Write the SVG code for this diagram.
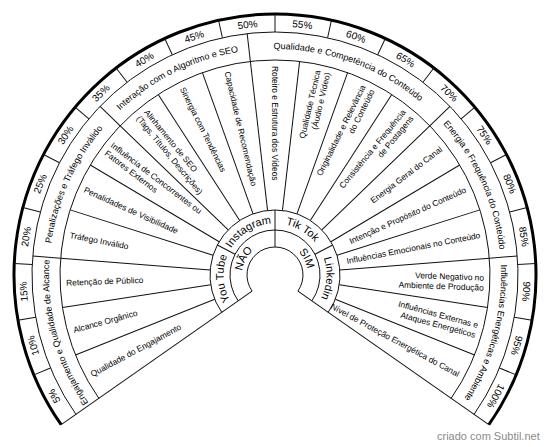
<svg xmlns="http://www.w3.org/2000/svg" xmlns:xlink="http://www.w3.org/1999/xlink" width="550" height="447" viewBox="0 0 550 447">
<style>
.ln{stroke:#111;stroke-width:1;fill:none}
.rim{stroke:#000;stroke-width:3;fill:none}
.pct{font-family:"Liberation Sans",Arial,sans-serif;font-size:10px;fill:#000;text-anchor:middle}
.cat{font-family:"Liberation Sans",Arial,sans-serif;font-size:9px;fill:#000;text-anchor:middle}
.plat{font-family:"Liberation Sans",Arial,sans-serif;font-size:11px;fill:#000;text-anchor:middle}
.it{font-family:"Liberation Sans",Arial,sans-serif;font-size:8.4px;fill:#000}
.l{text-anchor:start}
.r{text-anchor:end}
.credit{font-family:"Liberation Sans",Arial,sans-serif;font-size:11px;fill:#8a8a8a}
</style>
<defs>
<path id="arcCat" d="M145.372,89.872 A226,226 0 0 1 404.628,89.872"/>
<path id="arcPlat" d="M241.896,235.549 A51.5,51.5 0 0 1 308.104,235.549"/>
<path id="arcYN" d="M249.721,253.788 A33,33 0 0 1 300.279,253.788"/>
</defs>
<rect width="550" height="447" fill="#fff"/>

<g id="rings">
<path class="ln" d="M252.064,291.060 A28,28 0 1 1 297.936,291.060"/>
<path class="ln" d="M238.138,300.811 A45,45 0 1 1 311.862,300.811"/>
<path class="ln" d="M221.755,312.283 A65,65 0 1 1 328.245,312.283"/>
<path class="ln" d="M98.883,398.320 A215,215 0 1 1 451.117,398.320"/>
<path class="ln" d="M75.947,414.380 A243,243 0 1 1 474.053,414.380"/>
<path class="rim" d="M61.202,424.704 A261,261 0 1 1 488.798,424.704"/>
</g>

<g id="connectors" class="ln">
<!-- ends -->
<line x1="275" y1="247" x2="275" y2="14" transform="rotate(-125 275 275)"/>
<line x1="275" y1="247" x2="275" y2="14" transform="rotate(125 275 275)"/>
<!-- yes/no + platform -->
<line x1="275" y1="247" x2="275" y2="210"/>
<line x1="275" y1="230" x2="275" y2="210" transform="rotate(-62.5 275 275)"/>
<line x1="275" y1="230" x2="275" y2="210" transform="rotate(62.5 275 275)"/>
<!-- items -->
<line x1="275" y1="210" x2="275" y2="60" transform="rotate(-111.842 275 275)"/>
<line x1="275" y1="210" x2="275" y2="60" transform="rotate(-98.684 275 275)"/>
<line x1="275" y1="210" x2="275" y2="60" transform="rotate(-85.526 275 275)"/>
<line x1="275" y1="210" x2="275" y2="60" transform="rotate(-72.368 275 275)"/>
<line x1="275" y1="210" x2="275" y2="60" transform="rotate(-59.211 275 275)"/>
<line x1="275" y1="210" x2="275" y2="60" transform="rotate(-46.053 275 275)"/>
<line x1="275" y1="210" x2="275" y2="60" transform="rotate(-32.895 275 275)"/>
<line x1="275" y1="210" x2="275" y2="60" transform="rotate(-19.737 275 275)"/>
<line x1="275" y1="210" x2="275" y2="60" transform="rotate(-6.579 275 275)"/>
<line x1="275" y1="210" x2="275" y2="60" transform="rotate(6.579 275 275)"/>
<line x1="275" y1="210" x2="275" y2="60" transform="rotate(19.737 275 275)"/>
<line x1="275" y1="210" x2="275" y2="60" transform="rotate(32.895 275 275)"/>
<line x1="275" y1="210" x2="275" y2="60" transform="rotate(46.053 275 275)"/>
<line x1="275" y1="210" x2="275" y2="60" transform="rotate(59.211 275 275)"/>
<line x1="275" y1="210" x2="275" y2="60" transform="rotate(72.368 275 275)"/>
<line x1="275" y1="210" x2="275" y2="60" transform="rotate(85.526 275 275)"/>
<line x1="275" y1="210" x2="275" y2="60" transform="rotate(98.684 275 275)"/>
<line x1="275" y1="210" x2="275" y2="60" transform="rotate(111.842 275 275)"/>
<!-- categories -->
<line x1="275" y1="60" x2="275" y2="32" transform="rotate(-85.526 275 275)"/>
<line x1="275" y1="60" x2="275" y2="32" transform="rotate(-46.053 275 275)"/>
<line x1="275" y1="60" x2="275" y2="32" transform="rotate(-6.579 275 275)"/>
<line x1="275" y1="60" x2="275" y2="32" transform="rotate(46.053 275 275)"/>
<line x1="275" y1="60" x2="275" y2="32" transform="rotate(85.526 275 275)"/>
<!-- percent -->
<line x1="275" y1="32" x2="275" y2="14" transform="rotate(-112.5 275 275)"/>
<line x1="275" y1="32" x2="275" y2="14" transform="rotate(-100 275 275)"/>
<line x1="275" y1="32" x2="275" y2="14" transform="rotate(-87.5 275 275)"/>
<line x1="275" y1="32" x2="275" y2="14" transform="rotate(-75 275 275)"/>
<line x1="275" y1="32" x2="275" y2="14" transform="rotate(-62.5 275 275)"/>
<line x1="275" y1="32" x2="275" y2="14" transform="rotate(-50 275 275)"/>
<line x1="275" y1="32" x2="275" y2="14" transform="rotate(-37.5 275 275)"/>
<line x1="275" y1="32" x2="275" y2="14" transform="rotate(-25 275 275)"/>
<line x1="275" y1="32" x2="275" y2="14" transform="rotate(-12.5 275 275)"/>
<line x1="275" y1="32" x2="275" y2="14"/>
<line x1="275" y1="32" x2="275" y2="14" transform="rotate(12.5 275 275)"/>
<line x1="275" y1="32" x2="275" y2="14" transform="rotate(25 275 275)"/>
<line x1="275" y1="32" x2="275" y2="14" transform="rotate(37.5 275 275)"/>
<line x1="275" y1="32" x2="275" y2="14" transform="rotate(50 275 275)"/>
<line x1="275" y1="32" x2="275" y2="14" transform="rotate(62.5 275 275)"/>
<line x1="275" y1="32" x2="275" y2="14" transform="rotate(75 275 275)"/>
<line x1="275" y1="32" x2="275" y2="14" transform="rotate(87.5 275 275)"/>
<line x1="275" y1="32" x2="275" y2="14" transform="rotate(100 275 275)"/>
<line x1="275" y1="32" x2="275" y2="14" transform="rotate(112.5 275 275)"/>
</g>

<g id="percent" class="pct">
<text x="275" y="26.6" transform="rotate(-118.75 275 275)">5%</text>
<text x="275" y="26.6" transform="rotate(-106.25 275 275)">10%</text>
<text x="275" y="26.6" transform="rotate(-93.75 275 275)">15%</text>
<text x="275" y="26.6" transform="rotate(-81.25 275 275)">20%</text>
<text x="275" y="26.6" transform="rotate(-68.75 275 275)">25%</text>
<text x="275" y="26.6" transform="rotate(-56.25 275 275)">30%</text>
<text x="275" y="26.6" transform="rotate(-43.75 275 275)">35%</text>
<text x="275" y="26.6" transform="rotate(-31.25 275 275)">40%</text>
<text x="275" y="26.6" transform="rotate(-18.75 275 275)">45%</text>
<text x="275" y="26.6" transform="rotate(-6.25 275 275)">50%</text>
<text x="275" y="26.6" transform="rotate(6.25 275 275)">55%</text>
<text x="275" y="26.6" transform="rotate(18.75 275 275)">60%</text>
<text x="275" y="26.6" transform="rotate(31.25 275 275)">65%</text>
<text x="275" y="26.6" transform="rotate(43.75 275 275)">70%</text>
<text x="275" y="26.6" transform="rotate(56.25 275 275)">75%</text>
<text x="275" y="26.6" transform="rotate(68.75 275 275)">80%</text>
<text x="275" y="26.6" transform="rotate(81.25 275 275)">85%</text>
<text x="275" y="26.6" transform="rotate(93.75 275 275)">90%</text>
<text x="275" y="26.6" transform="rotate(106.25 275 275)">95%</text>
<text x="275" y="26.6" transform="rotate(118.75 275 275)">100%</text>
</g>

<g id="categories" class="cat">
<g id="cat-engajamento" transform="rotate(-105.263 275 275)"><text><textPath xlink:href="#arcCat" href="#arcCat" startOffset="50%">Engajamento e Qualidade de Alcance</textPath></text></g>
<g id="cat-penalizacoes" transform="rotate(-65.789 275 275)"><text><textPath xlink:href="#arcCat" href="#arcCat" startOffset="50%">Penalizações e Tráfego Inválido</textPath></text></g>
<g id="cat-interacao" transform="rotate(-26.316 275 275)"><text><textPath xlink:href="#arcCat" href="#arcCat" startOffset="50%">Interação com o Algoritmo e SEO</textPath></text></g>
<g id="cat-qualidade" transform="rotate(19.737 275 275)"><text><textPath xlink:href="#arcCat" href="#arcCat" startOffset="50%">Qualidade e Competência do Conteúdo</textPath></text></g>
<g id="cat-energia" transform="rotate(65.789 275 275)"><text><textPath xlink:href="#arcCat" href="#arcCat" startOffset="50%">Energia e Frequência do Conteúdo</textPath></text></g>
<g id="cat-influencias" transform="rotate(105.263 275 275)"><text><textPath xlink:href="#arcCat" href="#arcCat" startOffset="50%">Influências Energéticas e Ambiente</textPath></text></g>
</g>

<g id="platforms" class="plat">
<g id="p-youtube" transform="rotate(-93.75 275 275)"><text><textPath xlink:href="#arcPlat" href="#arcPlat" startOffset="50%">You Tube</textPath></text></g>
<g id="p-instagram" transform="rotate(-31.25 275 275)"><text><textPath xlink:href="#arcPlat" href="#arcPlat" startOffset="50%">Instagram</textPath></text></g>
<g id="p-tiktok" transform="rotate(31.25 275 275)"><text><textPath xlink:href="#arcPlat" href="#arcPlat" startOffset="50%">Tik Tok</textPath></text></g>
<g id="p-linkedin" transform="rotate(93.75 275 275)"><text><textPath xlink:href="#arcPlat" href="#arcPlat" startOffset="50%">Linkedin</textPath></text></g>
<g id="nao" transform="rotate(-62.5 275 275)"><text><textPath xlink:href="#arcYN" href="#arcYN" startOffset="50%">NÃO</textPath></text></g>
<g id="sim" transform="rotate(62.5 275 275)"><text><textPath xlink:href="#arcYN" href="#arcYN" startOffset="50%">SIM</textPath></text></g>
</g>

<g id="items" class="it">
<g id="i1" transform="translate(275 275) rotate(-28.421)"><text class="l" x="-209" y="3">Qualidade do Engajamento</text></g>
<g id="i2" transform="translate(275 275) rotate(-15.263)"><text class="l" x="-209" y="3">Alcance Orgânico</text></g>
<g id="i3" transform="translate(275 275) rotate(-2.105)"><text class="l" x="-209" y="3">Retenção de Público</text></g>
<g id="i4" transform="translate(275 275) rotate(11.053)"><text class="l" x="-209" y="3">Tráfego Inválido</text></g>
<g id="i5" transform="translate(275 275) rotate(24.211)"><text class="l" x="-209" y="3">Penalidades de Visibilidade</text></g>
<g id="i6" transform="translate(275 275) rotate(37.368)"><text class="l" x="-209" y="-2">Influência de Concorrentes ou</text><text class="l" x="-209" y="8">Fatores Externos</text></g>
<g id="i7" transform="translate(275 275) rotate(50.526)"><text class="l" x="-209" y="-2">Alinhamento de SEO</text><text class="l" x="-209" y="8">(Tags, Títulos, Descrições)</text></g>
<g id="i8" transform="translate(275 275) rotate(63.684)"><text class="l" x="-209" y="3">Sinergia com Tendências</text></g>
<g id="i9" transform="translate(275 275) rotate(76.842)"><text class="l" x="-209" y="3">Capacidade de Recomendação</text></g>
<g id="i10" transform="translate(275 275) rotate(90)"><text class="l" x="-209" y="3">Roteiro e Estrutura dos Vídeos</text></g>
<g id="i11" transform="translate(275 275) rotate(-76.842)"><text class="r" x="209" y="-2">Qualidade Técnica</text><text class="r" x="209" y="8">(Áudio e Vídeo)</text></g>
<g id="i12" transform="translate(275 275) rotate(-63.684)"><text class="r" x="209" y="-2">Originalidade e Relevância</text><text class="r" x="209" y="8">do Conteúdo</text></g>
<g id="i13" transform="translate(275 275) rotate(-50.526)"><text class="r" x="209" y="-2">Consistência e Frequência</text><text class="r" x="209" y="8">de Postagens</text></g>
<g id="i14" transform="translate(275 275) rotate(-37.368)"><text class="r" x="209" y="3">Energia Geral do Canal</text></g>
<g id="i15" transform="translate(275 275) rotate(-24.211)"><text class="r" x="209" y="3">Intenção e Propósito do Conteúdo</text></g>
<g id="i16" transform="translate(275 275) rotate(-11.053)"><text class="r" x="209" y="3">Influências Emocionais no Conteúdo</text></g>
<g id="i17" transform="translate(275 275) rotate(2.105)"><text class="r" x="209" y="-2">Verde Negativo no</text><text class="r" x="209" y="8">Ambiente de Produção</text></g>
<g id="i18" transform="translate(275 275) rotate(15.263)"><text class="r" x="209" y="-2">Influências Externas e</text><text class="r" x="209" y="8">Ataques Energéticos</text></g>
<g id="i19" transform="translate(275 275) rotate(28.421)"><text class="r" x="209" y="3">Nível de Proteção Energética do Canal</text></g>
</g>

<text class="credit" x="437" y="440">criado com Subtil.net</text>
</svg>
